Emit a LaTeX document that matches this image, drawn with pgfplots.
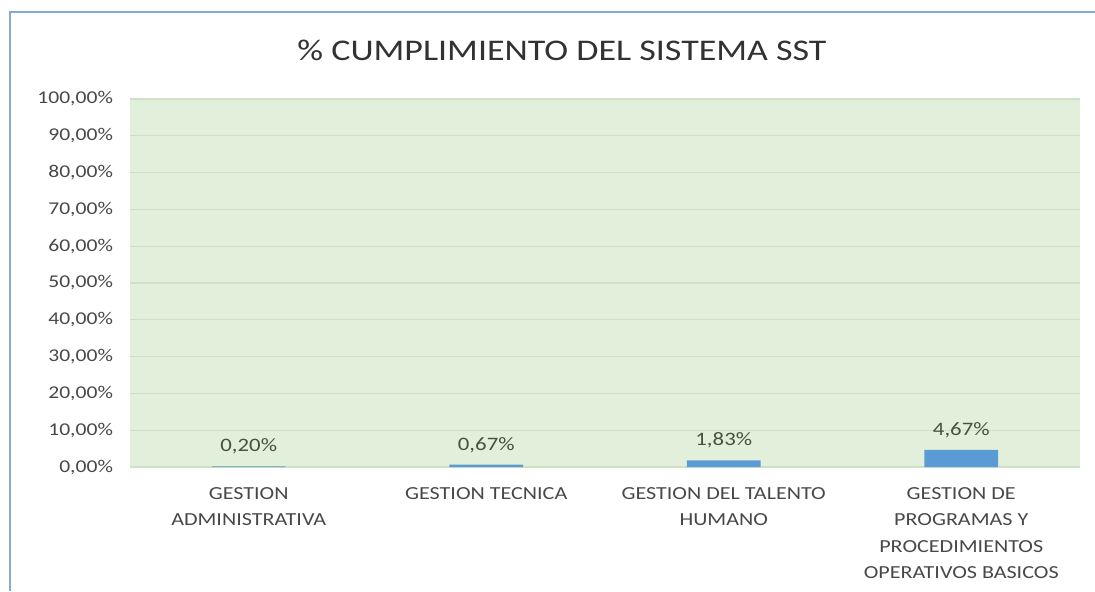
\documentclass[border=0pt]{standalone}
\usepackage{pgfplots}
\pgfplotsset{compat=1.18}
\usepackage{fontspec}
\setmainfont{Carlito}[FakeStretch=1.2]
\definecolor{plotbg}{RGB}{226,239,218}
\definecolor{gridc}{RGB}{208,224,198}
\definecolor{barc}{RGB}{91,155,213}
\definecolor{txt}{RGB}{72,72,72}
\definecolor{lblc}{RGB}{70,82,64}
\definecolor{titc}{RGB}{50,50,50}
\definecolor{frame}{RGB}{130,170,215}
\begin{document}
\begin{tikzpicture}[x=1pt,y=1pt]
\useasboundingbox (0,0) rectangle (547.5,295.5);
\draw[frame,line width=1pt] (5,0) -- (5,289.5) -- (547.5,289.5);
\node[titc,font=\fontsize{15}{18}\selectfont] at (281,270.5) {\% CUMPLIMIENTO DEL SISTEMA SST};
\begin{axis}[
  at={(65pt,62pt)}, anchor=south west,
  scale only axis, width=475pt, height=184pt,
  xmin=-0.5, xmax=3.5, ymin=0, ymax=100,
  axis background/.style={fill=plotbg},
  axis line style={draw=none},
  major tick length=0pt,
  ytick={0,10,...,100},
  yticklabels={{0,00\%},{10,00\%},{20,00\%},{30,00\%},{40,00\%},{50,00\%},{60,00\%},{70,00\%},{80,00\%},{90,00\%},{100,00\%}},
  ymajorgrids, grid style={gridc, line width=0.6pt},
  yticklabel style={font=\fontsize{9}{10}\selectfont, text=txt, xshift=-5pt},
  xtick={0,1,2,3},
  xticklabels={GESTION\\ADMINISTRATIVA, GESTION TECNICA, GESTION DEL TALENTO\\HUMANO, GESTION DE\\PROGRAMAS Y\\PROCEDIMIENTOS\\OPERATIVOS BASICOS},
  xticklabel style={font=\fontsize{9.2}{13.25}\selectfont, text=txt, align=center, yshift=-6.5pt},
  /pgf/number format/assume math mode=true,
  ybar, bar width=0.31,
  nodes near coords, point meta=explicit symbolic,
  nodes near coords style={font=\fontsize{9.5}{11}\selectfont, text=lblc, yshift=2.5pt},
]
\addplot[fill=barc, draw=none] table[meta=lab] {
x y lab
0 0.20 {0,20\%}
1 0.67 {0,67\%}
2 1.83 {1,83\%}
3 4.67 {4,67\%}
};
\end{axis}
\end{tikzpicture}
\end{document}
